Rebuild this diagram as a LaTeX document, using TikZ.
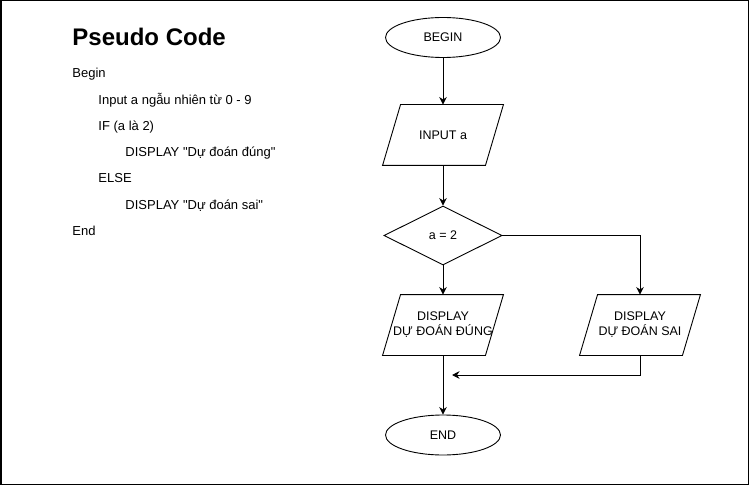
\documentclass[tikz,border=0pt]{standalone}
\usepackage{fontspec}
\setmainfont{Liberation Sans}
\usetikzlibrary{shapes.geometric,arrows.meta}
\tikzset{
  terminal/.style={draw, ellipse, minimum width=115pt, minimum height=40pt, inner sep=0pt},
  io/.style={minimum width=120pt, minimum height=60pt, inner sep=0pt, align=center,
    append after command={\pgfextra{
      \draw ([xshift=18pt]\tikzlastnode.north west) -- (\tikzlastnode.north east)
        -- ([xshift=-18pt]\tikzlastnode.south east) -- (\tikzlastnode.south west) -- cycle;}}},
  decision/.style={draw, diamond, minimum width=118pt, minimum height=59pt, inner sep=0pt},
  flow/.style={-{Stealth[length=7.5pt,width=7.5pt]}},
  code/.style={anchor=base west, inner sep=0pt, font=\fontsize{13}{15}\selectfont}
}

\begin{document}
\begin{tikzpicture}[x=1pt, y=-1pt, line width=0.9pt,
    every node/.style={font=\fontsize{12.5}{15}\selectfont}]
\useasboundingbox (0,0) rectangle (751,486);
\draw[line width=1.5pt] (0.75,0.75) rectangle (748.5,484.5);

% pseudo code
\node[anchor=base west, inner sep=0pt, font=\fontsize{24}{28}\bfseries] (title) at (72,45.5) {Pseudo Code};
\node[code] (l1) at (72,78) {Begin};
\node[code] (l2) at (98,104.5) {Input a ngẫu nhiên từ 0 - 9};
\node[code] (l3) at (98,130.5) {IF (a là 2)};
\node[code] (l4) at (125,156.5) {DISPLAY \textquotedbl Dự đoán đúng\textquotedbl};
\node[code] (l5) at (98,182.5) {ELSE};
\node[code] (l6) at (125,209.5) {DISPLAY \textquotedbl Dự đoán sai\textquotedbl};
\node[code] (l7) at (72,235.5) {End};

% flowchart
\node[terminal] (begin) at (443,37.5) {BEGIN};
\node[io] (input) at (443,135) {INPUT a};
\node[decision] (cond) at (443,235.5) {a = 2};
\node[io] (dispT) at (443,325) {DISPLAY\\DỰ ĐOÁN ĐÚNG};
\node[io] (dispF) at (640,325) {DISPLAY\\DỰ ĐOÁN SAI};
\node[terminal] (end) at (443,435) {END};
\coordinate (merge) at (452,375);

\draw[flow] (begin) -- (input);
\draw[flow] (input) -- (cond);
\draw[flow] (cond) -- (dispT);
\draw[flow] (cond.east) -| (dispF.north);
\draw[flow] (dispT) -- (end);
\draw[flow] (dispF.south) |- (merge);
\end{tikzpicture}
\end{document}
